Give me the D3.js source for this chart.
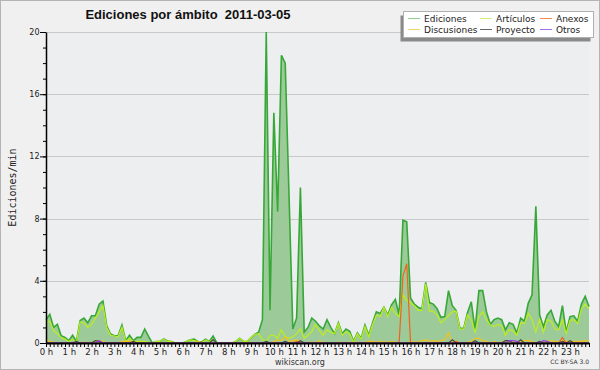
<!DOCTYPE html>
<html>
<head>
<meta charset="utf-8">
<script src="https://cdnjs.cloudflare.com/ajax/libs/d3/7.8.5/d3.min.js"></script>
<style>
body{margin:0;background:#fff;}
</style>
</head>
<body>
<div id="chart"></div>
<script>
// one value every 10 minutes, 00:00 .. 23:50
var ediciones = [
  1.5,1.85,1.0,1.2,0.47,0.36,0.15,0.5,0.1,1.45,1.6,1.3,
  1.75,1.75,2.5,2.7,1.1,0.58,0.47,0.47,1.15,0.15,0.5,0.15,
  0.36,0.36,0.9,0.43,0,0.1,0.1,0.26,0.13,0.1,0,0,
  0,0.1,0.2,0.25,0.1,0.05,0.25,0.1,0.45,0,0,0,
  0,0,0.1,0.3,0.1,0.1,0.35,0.55,0.7,1.5,20,2.1,
  14.8,8.45,18.5,18.0,9.5,0.9,1.6,10.0,0.7,1.0,1.6,1.4,
  1.1,0.9,1.5,1.0,0.6,1.3,0.6,0.9,0.75,0.1,0.65,0.3,
  1.15,0.5,1.3,2.0,1.9,2.3,1.8,2.45,2.8,1.8,7.9,7.8,
  2.9,2.5,2.3,2.2,3.9,2.6,2.5,2.2,1.65,1.7,3.37,2.4,
  2.1,0.95,0.95,1.95,2.65,0.85,3.37,3.37,2.0,1.2,1.5,1.6,
  1.5,0.85,1.3,1.2,0.65,1.6,1.4,2.55,3.1,8.8,1.8,1.05,
  1.8,2.1,1.4,1.05,2.4,0.7,1.7,1.75,1.4,2.5,3.0,2.35
];
var articulos = [
  1.3,1.4,0.8,0.6,0.35,0.25,0.1,0.25,0.05,1.35,1.3,1.0,
  1.2,1.6,2.0,2.4,1.0,0.5,0.45,0.4,1.0,0.1,0.3,0.1,
  0.1,0.1,0.1,0.05,0,0.1,0.1,0.25,0.1,0.1,0,0,
  0,0.1,0.2,0.15,0.1,0,0.2,0.1,0.2,0,0,0,
  0,0,0.1,0.3,0.1,0.1,0.35,0.55,0.6,0.2,0.1,0.5,
  0.5,0.3,0.85,0.4,0.3,0.4,0.6,0.9,0.3,0.5,0.75,1.2,
  0.8,0.5,0.85,0.7,0.6,1.25,0.5,0.73,0.6,0.05,0.6,0.25,
  1.05,0.4,1.2,1.8,1.7,2.3,1.7,2.3,1.9,1.7,3.1,2.75,
  2.6,2.4,2.1,2.1,3.8,2.05,2.05,1.8,1.3,1.5,1.75,2.0,
  2.05,0.9,0.9,1.8,1.5,0.7,1.7,2.0,1.5,1.15,1.05,1.2,
  1.1,0.5,0.85,0.8,0.5,1.3,1.25,1.9,1.5,0.7,1.5,0.7,
  1.5,1.4,0.9,0.85,1.5,0.6,1.45,1.5,1.25,2.2,2.5,2.2
];
var discusiones = [
  0.2,0.1,0.05,0,0,0,0,0,0,0,0.05,0,
  0,0.1,0.15,0.1,0,0,0,0,0.1,0.1,0.1,0.1,
  0,0,0,0,0,0,0,0,0,0,0,0,
  0,0,0,0,0.1,0,0,0,0,0,0,0,
  0,0,0,0,0,0,0.05,0,0,0,0,0,
  0.1,0.2,0.15,0.4,0.1,0.15,0.2,0.1,0,0,0.05,0,
  0.15,0,0,0,0,0.05,0,0,0.05,0,0.05,0,
  0.05,0.1,0.1,0.05,0.1,0.05,0.05,0.1,0.05,0,0,0,
  0.1,0.05,0.05,0.15,0.2,0.1,0.15,0.1,0.15,0.2,0.65,0.05,
  0.1,0,0,0.05,0.1,0.3,0.3,0.15,0.1,0,0.1,0,
  0.05,0.1,0.15,0.1,0.05,0.1,0.15,0.15,0.1,0,0.05,0.1,
  0.1,0.15,0.1,0.05,0.15,0.1,0.1,0.1,0.1,0.1,0.15,0.1
];
var anexos = [
  0,0,0,0,0,0,0,0,0,0,0,0,
  0,0,0,0,0,0,0,0,0,0,0,0,
  0,0,0,0,0,0,0,0,0,0,0,0,
  0,0,0,0,0,0,0,0,0,0,0,0,
  0,0,0,0,0,0,0,0,0,0,0,0,
  0,0,0,0,0,0,0.1,0,0,0,0,0,
  0,0,0,0,0,0,0,0,0,0,0,0,
  0,0,0,0,0,0,0,0,0,0,4.3,5.1,
  0,0,0,0,0,0,0,0,0,0,0,0,
  0.1,0,0,0,0,0,0,0,0,0,0,0,
  0,0,0,0,0,0,0,0,0,0,0,0,
  0,0,0,0,0.35,0,0,0,0,0,0,0
];
var proyecto = [
  0,0,0,0,0,0,0,0,0.1,0,0,0,
  0,0.15,0.1,0,0,0,0,0,0,0,0,0.1,
  0,0,0,0,0,0,0,0,0,0,0,0,
  0,0,0,0,0,0,0,0,0.2,0,0,0,
  0,0,0,0,0,0,0,0,0,0,0.1,0,
  0,0,0,0.1,0,0,0,0.15,0,0,0,0,
  0,0,0,0,0,0,0,0,0,0,0,0,
  0,0,0,0,0,0,0,0,0,0,0,0,
  0,0,0,0,0,0,0,0,0,0,0,0.2,
  0,0,0,0,0,0.15,0,0,0,0,0,0,
  0,0.15,0.15,0,0,0.2,0,0,0,0,0.1,0,
  0,0,0,0,0.1,0,0.15,0,0,0,0,0
];
var otros = [
  0,0,0,0,0,0,0,0,0,0,0,0,
  0,0,0.15,0,0,0,0,0,0,0,0,0,
  0,0,0,0,0,0,0,0,0,0,0,0,
  0,0,0,0,0,0,0,0,0,0,0,0,
  0,0,0,0,0,0,0,0,0,0,0,0,
  0,0,0,0,0,0,0,0,0,0,0,0,
  0,0,0,0,0,0,0,0,0,0,0,0,
  0,0,0,0,0,0,0,0,0,0,0,0,
  0,0,0,0,0,0,0,0,0,0,0,0,
  0,0,0,0,0,0,0,0,0,0,0,0,
  0,0,0.15,0.15,0.1,0,0,0,0,0,0,0.15,
  0.1,0,0,0,0,0,0,0,0,0,0,0
];
var hourLabels = ["0 h","1 h","2 h","3 h","4 h","5 h","6 h","7 h","8 h","9 h","10 h","11 h",
  "12 h","13 h","14 h","15 h","16 h","17 h","18 h","19 h","20 h","21 h","22 h","23 h"];
var yTicks = [0,4,8,12,16,20];
var legendCols = [["Ediciones","Discusiones"],["Artículos","Proyecto"],["Anexos","Otros"]];

var colors = {
  "Ediciones":"#37a837", "Artículos":"#bdee1a", "Anexos":"#f2621c",
  "Discusiones":"#f5c21b", "Proyecto":"#444444", "Otros":"#8a3cf0"
};
var legendColors = {
  "Ediciones":"#8fd08f", "Artículos":"#d2f27a", "Anexos":"#f08a5a",
  "Discusiones":"#f7d36a", "Proyecto":"#666666", "Otros":"#a070f0"
};

var svg = d3.select("#chart").append("svg").attr("width",600).attr("height",370);

svg.append("rect").attr("x",0.5).attr("y",0.5).attr("width",599).attr("height",369)
  .attr("fill","#f0f0f0").attr("stroke","#b4b4b4");

var x = d3.scaleLinear().domain([0,143]).range([46,589]);
var y = d3.scaleLinear().domain([0,20]).range([343,32]);
var idx = d3.range(ediciones.length);

svg.append("rect").attr("x",46).attr("y",32).attr("width",543).attr("height",311).attr("fill","#edeef0");

// grid
svg.append("g").selectAll("line").data(yTicks.slice(1)).enter().append("line")
  .attr("x1",46).attr("x2",589)
  .attr("y1",function(d){ return Math.round(y(d))+0.5; })
  .attr("y2",function(d){ return Math.round(y(d))+0.5; })
  .attr("stroke","#c9c9c9").attr("stroke-width",1.2);

var area = d3.area()
  .x(function(d){ return x(d); })
  .y0(y(0))
  .y1(function(d){ return y(ediciones[d]); });

svg.append("path").datum(idx).attr("d",area).attr("fill","#9ccb99");

function lineFor(arr){
  return d3.line().x(function(d){ return x(d); }).y(function(d){ return y(arr[d]); });
}

svg.append("path").datum(idx).attr("d",lineFor(ediciones))
  .attr("fill","none").attr("stroke",colors["Ediciones"]).attr("stroke-width",1.6);

var others = [["Artículos",articulos],["Discusiones",discusiones],["Anexos",anexos],["Proyecto",proyecto],["Otros",otros]];
others.forEach(function(s){
  svg.append("path").datum(idx).attr("d",lineFor(s[1]))
    .attr("fill","none").attr("stroke",colors[s[0]]).attr("stroke-width",1.2);
});

// x axis
var xAxis = svg.append("g")
  .attr("transform","translate(0,343)")
  .call(d3.axisBottom(x).tickValues(idx).tickSize(4).tickSizeOuter(0)
    .tickFormat(function(d){ return d%6===0 ? hourLabels[d/6] : ""; }));
xAxis.select(".domain").attr("stroke","#000").attr("stroke-width",2.2);
xAxis.selectAll(".tick line").attr("stroke","#000");
xAxis.selectAll("text").attr("font-family","DejaVu Sans").attr("font-size","8.5px")
  .attr("fill","#222").attr("y",6);

// y axis, minor and major ticks
var yMinor = svg.append("g").attr("transform","translate(46,0)")
  .call(d3.axisLeft(y).tickValues(d3.range(0,21)).tickSize(3).tickSizeOuter(0).tickFormat(""));
yMinor.select(".domain").attr("stroke","#000").attr("stroke-width",1.5);
yMinor.selectAll(".tick line").attr("stroke","#000");

var yMajor = svg.append("g").attr("transform","translate(46,0)")
  .call(d3.axisLeft(y).tickValues(yTicks).tickSize(6).tickSizeOuter(0));
yMajor.select(".domain").remove();
yMajor.selectAll(".tick line").attr("stroke","#000");
yMajor.selectAll("text").attr("font-family","DejaVu Sans").attr("font-size","8px")
  .attr("fill","#222").attr("x",-6.5);

// titles
svg.append("text").attr("x",188).attr("y",18.5).attr("text-anchor","middle")
  .style("white-space","pre")
  .attr("font-family","Liberation Sans").attr("font-weight","bold").attr("font-size","13px")
  .attr("fill","#111").text("Ediciones por ámbito  2011-03-05");

svg.append("text").attr("transform","translate(16,187.5) rotate(-90)").attr("text-anchor","middle")
  .attr("font-family","DejaVu Sans Mono").attr("font-size","10px").attr("fill","#222")
  .text("Ediciones/min");

svg.append("text").attr("x",300).attr("y",365).attr("text-anchor","middle")
  .attr("font-family","DejaVu Sans").attr("font-size","8px").attr("fill","#333").text("wikiscan.org");

svg.append("text").attr("x",589).attr("y",364).attr("text-anchor","end")
  .attr("font-family","DejaVu Sans").attr("font-size","6px").attr("fill","#333").text("CC BY-SA 3.0");

// legend
var lg = svg.append("g");
lg.append("rect").attr("x",400.5).attr("y",15.5).attr("width",190).attr("height",26).attr("fill","#8a8a8a");
lg.append("rect").attr("x",403.5).attr("y",11.5).attr("width",190).attr("height",26)
  .attr("fill","#fff").attr("stroke","#b0b0b0");

var colX = [408,480,540];
var rowY = [18.5,29.5];
legendCols.forEach(function(col,ci){
  col.forEach(function(name,ri){
    lg.append("line").attr("x1",colX[ci]).attr("x2",colX[ci]+12)
      .attr("y1",rowY[ri]).attr("y2",rowY[ri])
      .attr("stroke",legendColors[name]).attr("stroke-width",1);
    lg.append("text").attr("x",colX[ci]+16).attr("y",rowY[ri]+3.3)
      .attr("font-family","DejaVu Sans").attr("font-size","9px").attr("fill","#222")
      .text(name);
  });
});
</script>
</body>
</html>
